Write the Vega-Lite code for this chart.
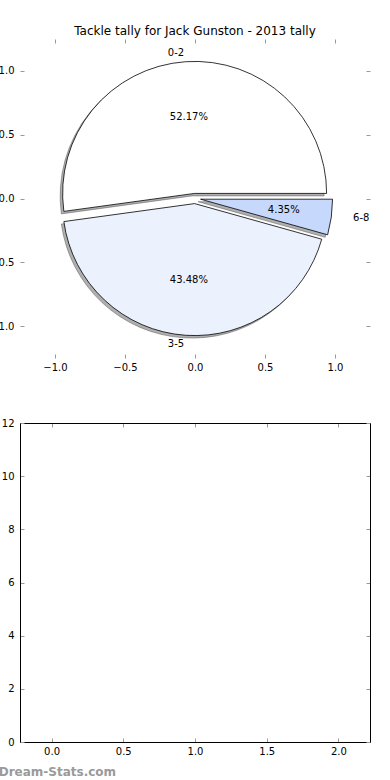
{
  "$schema": "https://vega.github.io/schema/vega-lite/v6.json",
  "background": "white",
  "padding": {"left": -11, "top": 24, "right": 0, "bottom": 0},
  "config": {
    "font": "DejaVu Sans",
    "view": {"stroke": null},
    "axis": {"labelFontSize": 10, "labelColor": "black", "labelFont": "DejaVu Sans", "tickColor": "#999999", "tickWidth": 1, "tickSize": -4, "labelPadding": 8, "grid": false, "domain": false},
    "concat": {"spacing": 46}
  },
  "title": {"text": "Dream-Stats.com", "orient": "bottom", "anchor": "start", "fontSize": 12, "fontWeight": "bold", "color": "#9a9a9a", "offset": 11, "dx": 9},
  "datasets": {
    "tackles": [
      {"tackles": "0-2", "games": 12, "rank": 0},
      {"tackles": "3-5", "games": 10, "rank": 1},
      {"tackles": "6-8", "games": 1, "rank": 2}
    ],
    "empty": []
  },
  "vconcat": [
    {
      "width": 350,
      "height": 319,
      "title": {"text": "Tackle tally for Jack Gunston - 2013 tally", "fontSize": 12, "fontWeight": "normal", "color": "black", "offset": 1},
      "data": {"name": "tackles"},
      "transform": [
        {"joinaggregate": [{"op": "sum", "field": "games", "as": "total"}]},
        {"stack": "games", "groupby": [], "sort": [{"field": "rank", "order": "ascending"}], "as": ["s0", "s1"]},
        {"calculate": "datum.s0 / datum.total", "as": "f0"},
        {"calculate": "datum.s1 / datum.total", "as": "f1"},
        {"calculate": "datum.games / datum.total", "as": "share"},
        {"calculate": "PI * (datum.f0 + datum.f1)", "as": "mid"},
        {"calculate": "0.04 * cos(datum.mid)", "as": "cx"},
        {"calculate": "0.04 * sin(datum.mid)", "as": "cy"},
        {"calculate": "datum.cx + 0.6 * cos(datum.mid)", "as": "px"},
        {"calculate": "datum.cy + 0.6 * sin(datum.mid)", "as": "py"},
        {"calculate": "datum.cx + 1.1 * cos(datum.mid)", "as": "lx"},
        {"calculate": "datum.cy + 1.1 * sin(datum.mid)", "as": "ly"}
      ],
      "resolve": {"axis": {"x": "independent", "y": "independent"}},
      "layer": [
        {
          "mark": {"type": "arc", "radius": 132, "fill": "#4d4d4d", "fillOpacity": 0.45, "stroke": "#4d4d4d", "strokeOpacity": 0.45, "strokeWidth": 1, "xOffset": -2.5, "yOffset": 2.5},
          "encoding": {
            "x": {"field": "cx", "type": "quantitative", "scale": {"domain": [-1.25, 1.25], "nice": false, "zero": false}, "axis": {"orient": "bottom", "values": [-1, -0.5, 0, 0.5, 1], "format": ".1f", "title": null}},
            "y": {"field": "cy", "type": "quantitative", "scale": {"domain": [-1.25, 1.25], "nice": false, "zero": false}, "axis": {"orient": "left", "values": [-1, -0.5, 0, 0.5, 1], "format": ".1f", "title": null, "labelPadding": 10}},
            "theta": {"field": "f0", "type": "quantitative", "scale": {"domain": [0, 1], "range": [1.5708, -4.7124]}},
            "theta2": {"field": "f1"}
          }
        },
        {
          "mark": {"type": "arc", "radius": 132, "stroke": "black", "strokeWidth": 0.8},
          "encoding": {
            "x": {"field": "cx", "type": "quantitative", "axis": {"orient": "top", "values": [-1, -0.5, 0, 0.5, 1], "labels": false, "title": null}},
            "y": {"field": "cy", "type": "quantitative", "axis": {"orient": "right", "values": [-1, -0.5, 0, 0.5, 1], "labels": false, "title": null}},
            "theta": {"field": "f0", "type": "quantitative"},
            "theta2": {"field": "f1"},
            "color": {"field": "tackles", "type": "nominal", "scale": {"domain": ["0-2", "3-5", "6-8"], "range": ["#ffffff", "#ebf1fd", "#c6d9fc"]}, "legend": null}
          }
        },
        {
          "mark": {"type": "text", "fontSize": 10, "color": "black", "align": "center", "baseline": "middle"},
          "encoding": {
            "x": {"field": "px", "type": "quantitative", "axis": null},
            "y": {"field": "py", "type": "quantitative", "axis": null},
            "text": {"field": "share", "type": "quantitative", "format": ".2%"}
          }
        },
        {
          "transform": [{"filter": "cos(datum.mid) > 0"}],
          "mark": {"type": "text", "fontSize": 10, "color": "black", "align": "left", "baseline": "middle"},
          "encoding": {
            "x": {"field": "lx", "type": "quantitative", "axis": null},
            "y": {"field": "ly", "type": "quantitative", "axis": null},
            "text": {"field": "tackles", "type": "nominal"}
          }
        },
        {
          "transform": [{"filter": "cos(datum.mid) <= 0"}],
          "mark": {"type": "text", "fontSize": 10, "color": "black", "align": "right", "baseline": "middle"},
          "encoding": {
            "x": {"field": "lx", "type": "quantitative", "axis": null},
            "y": {"field": "ly", "type": "quantitative", "axis": null},
            "text": {"field": "tackles", "type": "nominal"}
          }
        }
      ]
    },
    {
      "width": 350,
      "height": 319,
      "data": {"name": "empty"},
      "resolve": {"axis": {"x": "independent", "y": "independent"}},
      "layer": [
        {
          "mark": "point",
          "encoding": {
            "x": {"field": "x", "type": "quantitative", "scale": {"domain": [-0.22, 2.22], "nice": false, "zero": false}, "axis": {"orient": "bottom", "values": [0, 0.5, 1, 1.5, 2], "format": ".1f", "domain": true, "domainColor": "black", "domainWidth": 1, "title": null}},
            "y": {"field": "y", "type": "quantitative", "scale": {"domain": [0, 12], "nice": false}, "axis": {"orient": "left", "values": [0, 2, 4, 6, 8, 10, 12], "format": "d", "domain": true, "domainColor": "black", "domainWidth": 1, "title": null, "labelPadding": 10}}
          }
        },
        {
          "mark": "point",
          "encoding": {
            "x": {"field": "x", "type": "quantitative", "axis": {"orient": "top", "values": [0, 0.5, 1, 1.5, 2], "labels": false, "domain": true, "domainColor": "black", "domainWidth": 1, "title": null}},
            "y": {"field": "y", "type": "quantitative", "axis": {"orient": "right", "values": [0, 2, 4, 6, 8, 10, 12], "labels": false, "domain": true, "domainColor": "black", "domainWidth": 1, "title": null}}
          }
        }
      ]
    }
  ]
}
